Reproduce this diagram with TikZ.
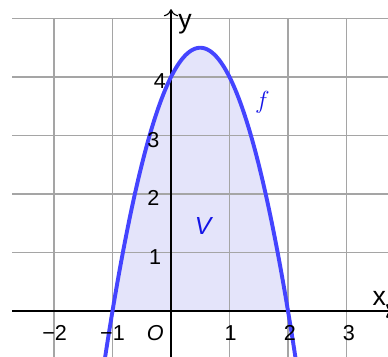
\documentclass[tikz,border=0pt]{standalone}
\usepackage{fontspec}
\setsansfont{Liberation Sans}
\usetikzlibrary{arrows.meta}
\definecolor{gridgray}{RGB}{165,165,165}
\definecolor{curveblue}{RGB}{68,68,255}
\definecolor{fillblue}{RGB}{228,228,250}
\definecolor{labelblue}{RGB}{20,20,230}
\tikzset{
  lbl/.style={font=\sffamily\fontsize{10.5}{12}\selectfont, inner sep=0pt},
  gridline/.style={draw=gridgray, line width=0.75pt},
}
\begin{document}
\begin{tikzpicture}
\useasboundingbox (-2.923,-0.769) rectangle (3.709,5.316);
% fill region
\fill[fillblue] (-1,0) -- plot[domain=-1:2, samples=80, smooth] (\x,{-2*\x*\x+2*\x+4}) -- cycle;
% grid
\foreach \x in {-2,...,3} \draw[gridline] (\x,-0.8) -- (\x,5);
\foreach \y in {1,...,5} \draw[gridline] (-2.71,\y) -- (3.8,\y);
% axes
\coordinate (xs) at (-2.71,0);
\coordinate (xe) at (3.8,0);
\coordinate (ys) at (0,-0.8);
\coordinate (ye) at (0,5.16);
\draw[line width=1.1pt, -{To[length=3.5pt,width=7pt]}] (xs) -- (xe);
\draw[line width=0.55pt, -{To[length=3.5pt,width=7pt]}] (ys) -- (ye);
% curve
\draw[curveblue, line width=1.9pt] plot[domain=-1.15:2.15, samples=100, smooth] (\x,{-2*\x*\x+2*\x+4});
% labels
\node[lbl, font=\sffamily\fontsize{13}{15}\selectfont] (ylab) at (0.24,4.9) {y};
\node[lbl, font=\sffamily\fontsize{13}{15}\selectfont] (xlab) at (3.56,0.22) {x};
\node[lbl] (xm2) at (-1.99,-0.38) {−2};
\node[lbl] (xm1) at (-1.0,-0.38) {−1};
\node[lbl] (orig) at (-0.27,-0.38) {\itshape O};
\node[lbl] (x1) at (1.02,-0.38) {1};
\node[lbl] (x2) at (2.03,-0.38) {2};
\node[lbl] (x3) at (3.04,-0.38) {3};
\node[lbl] (y1) at (-0.27,0.93) {1};
\node[lbl] (y2) at (-0.3,1.94) {2};
\node[lbl] (y3) at (-0.3,2.93) {3};
\node[lbl] (y4) at (-0.19,3.93) {4};
\node[lbl, text=labelblue] (flab) at (1.56,3.56) {\fontsize{12}{14}\selectfont$f$};
\node[lbl, text=labelblue] (vlab) at (0.55,1.45) {\fontsize{12}{14}\selectfont\itshape V};
\end{tikzpicture}
\end{document}
